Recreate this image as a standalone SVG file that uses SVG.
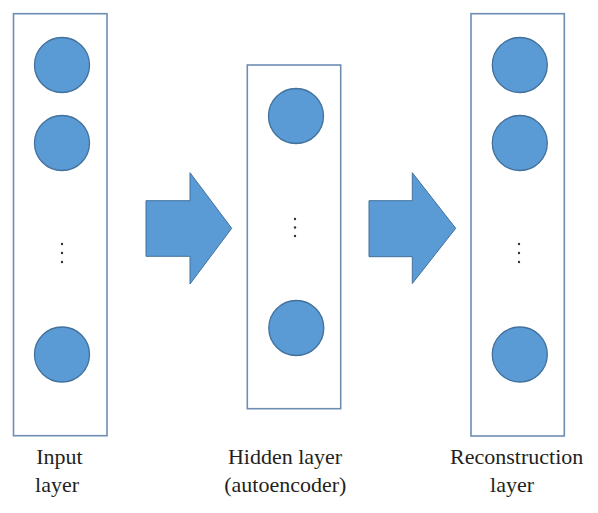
<svg xmlns="http://www.w3.org/2000/svg" width="598" height="513" viewBox="0 0 598 513">
<style>
.layer{fill:#fff;stroke:#6E8DB3;stroke-width:1.6}
.node{fill:#5B9BD5;stroke:#41719C;stroke-width:1.3}
.arrow{fill:#5B9BD5;stroke:#41719C;stroke-width:1}
.dot{fill:#333}
.lbl{font-family:"Liberation Serif","Times New Roman",serif;font-size:22px;fill:#231F20;text-anchor:middle}
</style>
<rect width="598" height="513" fill="#fff"/>
<g id="input-layer">
<rect class="layer" x="13.5" y="13.7" width="93.5" height="422"/>
<circle class="node" cx="62" cy="65" r="27.5"/>
<circle class="node" cx="62" cy="143" r="27.5"/>
<circle class="dot" cx="62" cy="244" r="1.2"/>
<circle class="dot" cx="62" cy="253" r="1.2"/>
<circle class="dot" cx="62" cy="262" r="1.2"/>
<circle class="node" cx="62" cy="354.5" r="27.5"/>
<text class="lbl" x="59.5" y="464">Input</text>
<text class="lbl" x="57" y="492">layer</text>
</g>
<g id="hidden-layer">
<rect class="layer" x="247.3" y="65" width="93.4" height="343.7"/>
<circle class="node" cx="296" cy="116" r="27.5"/>
<circle class="dot" cx="295" cy="219" r="1.2"/>
<circle class="dot" cx="295" cy="227.5" r="1.2"/>
<circle class="dot" cx="295" cy="236" r="1.2"/>
<circle class="node" cx="296.3" cy="328" r="27.5"/>
<text class="lbl" x="285" y="464">Hidden layer</text>
<text class="lbl" x="285.3" y="492">(autoencoder)</text>
</g>
<g id="reconstruction-layer">
<rect class="layer" x="471" y="13.7" width="93.3" height="422.3"/>
<circle class="node" cx="519.8" cy="65" r="27.5"/>
<circle class="node" cx="519.8" cy="143" r="27.5"/>
<circle class="dot" cx="519" cy="244" r="1.2"/>
<circle class="dot" cx="519" cy="253" r="1.2"/>
<circle class="dot" cx="519" cy="262" r="1.2"/>
<circle class="node" cx="519.8" cy="354.5" r="27.5"/>
<text class="lbl" x="516.7" y="464">Reconstruction</text>
<text class="lbl" x="512" y="492">layer</text>
</g>
<g id="connectors">
<polygon class="arrow" points="146,200.7 190,200.7 190,172.7 231.7,228.3 190,284 190,256.3 146,256.3"/>
<polygon class="arrow" points="369,200.7 412.3,200.7 412.3,172.7 455.7,228.3 412.3,283.5 412.3,256.7 369,256.7"/>
</g>
</svg>
